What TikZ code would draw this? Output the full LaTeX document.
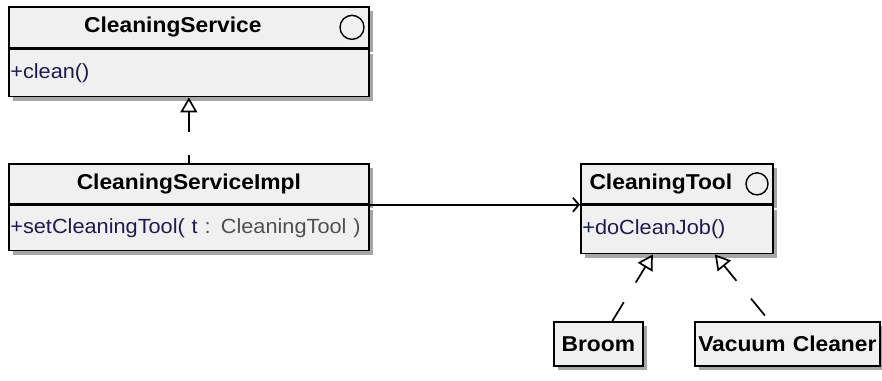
\documentclass[tikz,border=0pt]{standalone}
\usepackage{fontspec}
\setmainfont{Liberation Sans}[FakeStretch=1.06]
\usetikzlibrary{positioning}
\usetikzlibrary{arrows.meta}
\usetikzlibrary{shadows}

\definecolor{boxfill}{RGB}{240,240,240}
\definecolor{opnavy}{RGB}{28,28,80}
\definecolor{typegray}{RGB}{80,80,80}

\tikzset{
  boxshadow/.style={drop shadow={shadow xshift=4pt, shadow yshift=-4pt, fill=black!35, opacity=1}},
  classhead/.style={draw, line width=1.7pt, fill=boxfill, boxshadow, anchor=north west, inner sep=0pt,
    text width=#1, align=center, font=\fontsize{21.5}{25}\selectfont\bfseries},
  classops/.style={draw, line width=1.7pt, fill=boxfill, boxshadow, inner ysep=0pt, inner xsep=1.5pt,
    text width=#1, align=left, text=opnavy, font=\fontsize{20.5}{24}\selectfont},
  iconcircle/.style={draw, circle, line width=1.4pt, minimum size=24pt, inner sep=0pt},
  realize/.style={line width=1.7pt, dash pattern=on 22pt off 23pt, -{Triangle[open, length=15pt, width=17pt]}},
  assoc/.style={line width=1.7pt, -{Straight Barb[length=6pt, width=14pt]}}
}

\begin{document}
\begin{tikzpicture}[x=1pt, y=-1pt]
  \useasboundingbox (0,0) rectangle (882,380);

  % interface CleaningService
  \node[classhead=360pt, minimum height=41pt] (svc) at (8,6) {CleaningService\hspace{32pt}\mbox{}};
  \node[classops=357pt, minimum height=47pt, below=0pt of svc] (svcops) {+clean()};
  \node[iconcircle, left=5pt of svc.east] (svcicon) {};

  % class CleaningServiceImpl
  \node[classhead=360pt, minimum height=40pt] (impl) at (8,163) {CleaningServiceImpl};
  \node[classops=357pt, minimum height=45pt, below=0pt of impl] (implops)
    {+setCleaningTool( t \textcolor{typegray}{: CleaningTool )}};

  % interface CleaningTool
  \node[classhead=192pt, minimum height=40pt] (tool) at (580,163) {CleaningTool\hspace{32pt}\mbox{}};
  \node[classops=189pt, minimum height=48pt, below=0pt of tool] (toolops) {+doCleanJob()};
  \node[iconcircle, minimum size=22pt, left=5pt of tool.east] (toolicon) {};

  % implementations
  \node[classhead=89pt, minimum height=44pt] (broom) at (553,321) {Broom};
  \node[classhead=185pt, minimum height=44pt] (vacuum) at (694,321) {Vacuum Cleaner};

  \draw[realize, dash phase=14pt] (impl.north) -- (svcops.south);
  \draw[assoc] (impl.south east) -- (tool.south west);
  \draw[realize, dash phase=0pt] ([xshift=14pt]broom.north) -- ([xshift=-24pt]toolops.south);
  \draw[realize, dash phase=38pt] ([xshift=-18pt]vacuum.north) -- ([xshift=38pt]toolops.south);
\end{tikzpicture}
\end{document}
